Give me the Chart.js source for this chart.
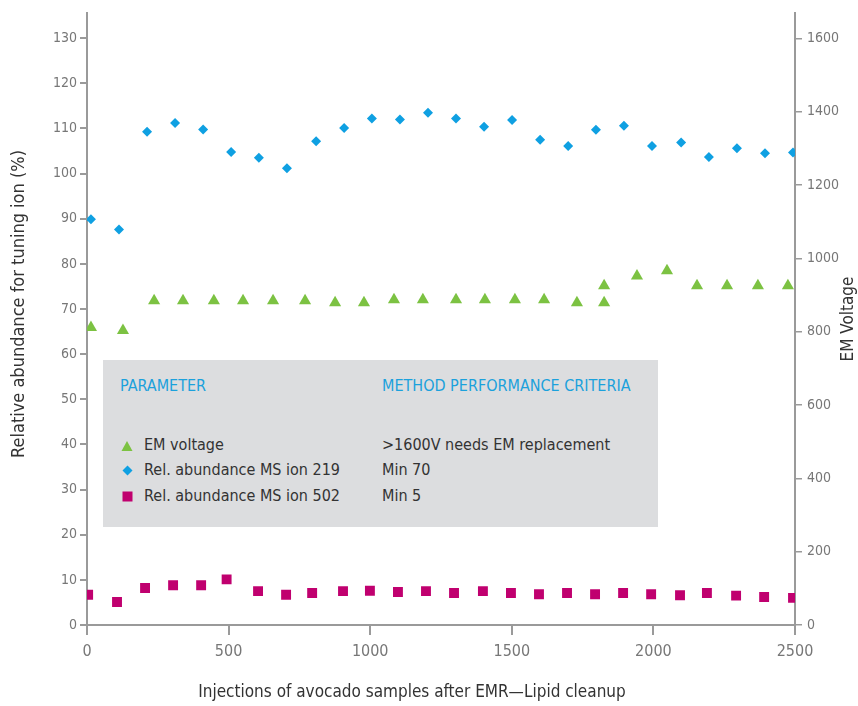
<!DOCTYPE html>
<html>
<head>
<meta charset="utf-8">
<script src="https://cdn.jsdelivr.net/npm/chart.js@4.4.1/dist/chart.umd.min.js"></script>
<style>
html,body{margin:0;padding:0;background:#fff;}
#wrap{position:relative;width:858px;height:706px;overflow:hidden;}
#c{position:absolute;left:0;top:0;}
#legend{position:absolute;left:103px;top:360px;width:555px;height:167px;background:#dcdddf;
  font-family:'DejaVu Sans Condensed','DejaVu Sans',sans-serif;font-size:16px;color:#333;}
#legend .t{position:absolute;line-height:22px;height:22px;white-space:nowrap;}
#legend .h{color:#1ba1dc;}
#legend svg{position:absolute;}
</style>
</head>
<body>
<div id="wrap">
<canvas id="c" width="858" height="706"></canvas>
<div id="legend">
  <div class="t h" style="left:17px;top:15px;">PARAMETER</div>
  <div class="t h" style="left:279px;top:15px;">METHOD PERFORMANCE CRITERIA</div>

  <svg style="left:18px;top:80px;" width="12" height="12" viewBox="0 0 12 12"><polygon points="6,1 11.5,11 0.5,11" fill="#7cc242"/></svg>
  <div class="t" style="left:41px;top:74px;">EM voltage</div>
  <div class="t" style="left:279px;top:74px;">&gt;1600V needs EM replacement</div>

  <svg style="left:19px;top:105px;" width="11" height="11" viewBox="0 0 11 11"><polygon points="5.5,0.5 10.5,5.5 5.5,10.5 0.5,5.5" fill="#0fa0e2"/></svg>
  <div class="t" style="left:41px;top:99px;">Rel. abundance MS ion 219</div>
  <div class="t" style="left:279px;top:99px;">Min 70</div>

  <svg style="left:19px;top:131px;" width="11" height="11" viewBox="0 0 11 11"><rect x="0.5" y="0.5" width="10" height="10" fill="#c0006f"/></svg>
  <div class="t" style="left:41px;top:125px;">Rel. abundance MS ion 502</div>
  <div class="t" style="left:279px;top:125px;">Min 5</div>
</div>
</div>
<script>
// ---- data ----
const emX = [14,127,237,339,448,551,657,770,876,978,1084,1186,1303,1405,1511,1614,1730,1826,1826,1942,2048,2154,2260,2369,2475];
const emV = [811,803,884,884,884,884,884,884,879,879,887,887,887,887,887,887,879,879,925,952,966,925,925,925,925];

const ion219X = [14,113,212,311,410,509,607,706,809,908,1006,1105,1204,1303,1402,1501,1600,1699,1797,1896,1995,2098,2196,2295,2394,2493];
const ion219Y = [89.9,87.6,109.3,111.2,109.8,104.8,103.5,101.2,107.2,110.1,112.2,112.0,113.5,112.2,110.4,111.9,107.5,106.1,109.7,110.6,106.1,106.9,103.7,105.6,104.5,104.7];

const ion502X = [4,106,205,304,403,493,604,703,795,904,999,1098,1197,1296,1398,1497,1596,1695,1794,1893,1992,2094,2189,2292,2391,2493];
const ion502Y = [6.7,5.1,8.2,8.8,8.8,10.1,7.5,6.7,7.1,7.5,7.6,7.3,7.5,7.1,7.5,7.1,6.8,7.1,6.8,7.1,6.8,6.6,7.1,6.5,6.2,6.0];

const xTitle = 'Injections of avocado samples after EMR\u2014Lipid cleanup';
const yTitle = 'Relative abundance for tuning ion (%)';
const y1Title = 'EM Voltage';

// ---- styles ----
const FONT = "'DejaVu Sans Condensed','DejaVu Sans',sans-serif";
const GREEN = '#7cc242', BLUE = '#0fa0e2', PINK = '#c0006f';
const AXIS = '#9a9a9a', TICK = '#777777', TITLE = '#333333';

const pts = (xs, ys) => xs.map((x, i) => ({x: x, y: ys[i]}));
const plain = v => String(v);

const axisTitles = {
  id: 'axisTitles',
  afterDraw(chart) {
    const c = chart.ctx;
    const draw = (text, x, y, rot, size) => {
      c.save();
      c.translate(x, y);
      c.rotate(rot);
      c.font = size + 'px ' + FONT;
      c.fillStyle = TITLE;
      c.textAlign = 'center';
      c.textBaseline = 'middle';
      c.fillText(text, 0, 0);
      c.restore();
    };
    draw(xTitle, 412, 693, 0, 17);
    draw(yTitle, 19, 304, -Math.PI / 2, 18);
    draw(y1Title, 849, 319, -Math.PI / 2, 17);
  }
};

new Chart(document.getElementById('c'), {
  type: 'scatter',
  data: {
    datasets: [
      {label: 'EM voltage', data: pts(emX, emV), yAxisID: 'y1', pointStyle: 'triangle', pointRadius: 7, pointHoverRadius: 7, backgroundColor: GREEN, borderWidth: 0},
      {label: 'Rel. abundance MS ion 219', data: pts(ion219X, ion219Y), yAxisID: 'y', pointStyle: 'rectRot', pointRadius: 5, pointHoverRadius: 5, backgroundColor: BLUE, borderWidth: 0},
      {label: 'Rel. abundance MS ion 502', data: pts(ion502X, ion502Y), yAxisID: 'y', pointStyle: 'rect', pointRadius: 7, pointHoverRadius: 7, backgroundColor: PINK, borderWidth: 0}
    ]
  },
  options: {
    responsive: false,
    animation: false,
    layout: {padding: {top: 10, left: 0, right: 0, bottom: 0}},
    plugins: {legend: {display: false}, tooltip: {enabled: false}},
    scales: {
      x: {
        type: 'linear', min: 0, max: 2500,
        ticks: {stepSize: 500, color: TICK, font: {family: FONT, size: 16}, padding: 7, maxRotation: 0, callback: plain},
        grid: {drawOnChartArea: false, tickLength: 10, color: AXIS, lineWidth: 2},
        border: {color: AXIS, width: 2},
        title: {display: false},
        afterFit: s => { s.height = 81; }
      },
      y: {
        type: 'linear', position: 'left', min: 0, max: 135.5,
        ticks: {stepSize: 10, color: TICK, font: {family: FONT, size: 14}, padding: 3, callback: plain},
        afterBuildTicks: s => { s.ticks = s.ticks.filter(t => t.value % 10 === 0); },
        grid: {drawOnChartArea: false, tickLength: 7, color: AXIS, lineWidth: 2},
        border: {color: AXIS, width: 2},
        title: {display: false},
        afterFit: s => { s.width = 87; }
      },
      y1: {
        type: 'linear', position: 'right', min: 0, max: 1667.8,
        ticks: {stepSize: 200, color: TICK, font: {family: FONT, size: 14}, padding: 5, callback: plain},
        afterBuildTicks: s => { s.ticks = s.ticks.filter(t => t.value % 200 === 0); },
        grid: {drawOnChartArea: false, tickLength: 7, color: AXIS, lineWidth: 1.5},
        border: {color: AXIS, width: 2},
        title: {display: false},
        afterFit: s => { s.width = 63; }
      }
    }
  },
  plugins: [axisTitles]
});
</script>
</body>
</html>
